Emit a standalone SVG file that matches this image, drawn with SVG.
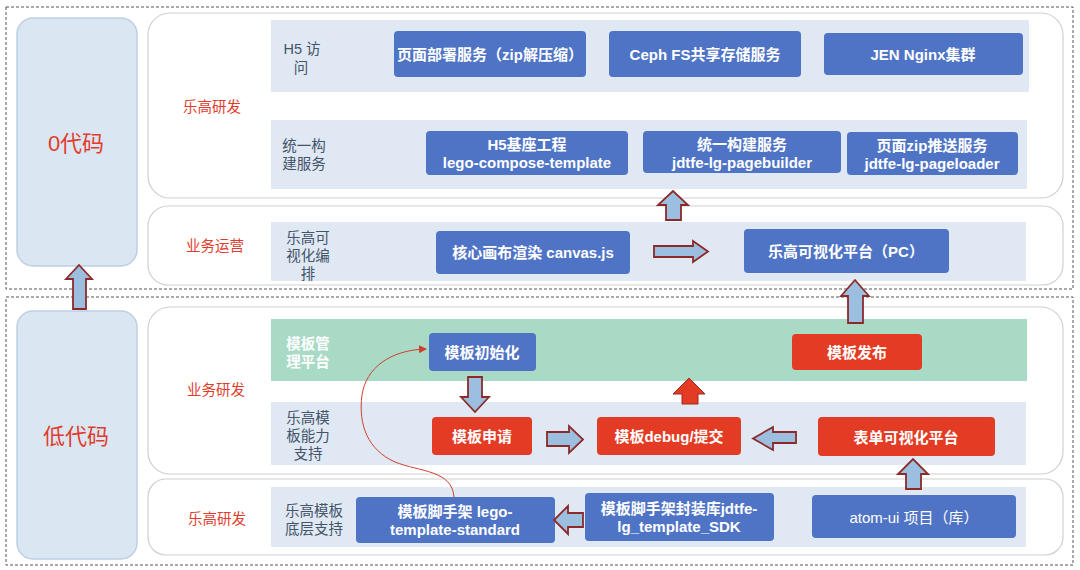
<svg xmlns="http://www.w3.org/2000/svg" width="1080" height="570" viewBox="0 0 1080 570">
<defs>
<style>
.dash{fill:none;stroke:#555;stroke-width:1;stroke-dasharray:3 2}
.side{fill:#dae6f1;stroke:#bdd0e2;stroke-width:1.5}
.panel{fill:#fff;stroke:#cfcfcf;stroke-width:1.2}
.band{fill:#dfe8f3}
.gband{fill:#a8dac5}
.bb{fill:#4f74c6}
.rb{fill:#e33b24}
text{font-family:"Liberation Sans","Noto Sans CJK SC",sans-serif;text-anchor:middle;dominant-baseline:central}
.wt{font-weight:bold;font-size:15px;fill:#fff}
.wl{font-weight:bold;font-size:14.5px;fill:#fff}
.wn{font-size:15px;fill:#fff}
.lab{font-size:14.5px;fill:#44546a}
.sec{font-size:14.5px;fill:#e23c2e}
.big{font-size:22px;fill:#e23c2e}
.arr{fill:#9cbfdf;stroke:#8c2a2a;stroke-width:1.8}
.rarr{fill:#e33b24;stroke:#9c2a20;stroke-width:1}
</style>
<marker id="ah" markerWidth="8" markerHeight="8" refX="7" refY="4" orient="auto" markerUnits="userSpaceOnUse">
<path d="M0,0 L8,4 L0,8 z" fill="#d0402f"/>
</marker>
</defs>
<rect width="1080" height="570" fill="#fff"/>

<g id="zones">
<rect class="dash" x="6" y="7" width="1067" height="282"/>
<rect class="dash" x="6" y="297" width="1067" height="268"/>
</g>

<g id="zero-code">
<rect class="side" x="17" y="18" width="120" height="248" rx="16"/>
<text class="big" x="76" y="143">0代码</text>
</g>
<g id="low-code">
<rect class="side" x="17" y="311" width="120" height="248" rx="16"/>
<text class="big" x="76" y="436">低代码</text>
</g>

<g id="panels">
<rect class="panel" x="148" y="13" width="915" height="185" rx="22"/>
<rect class="panel" x="148" y="206" width="915" height="79" rx="20"/>
<rect class="panel" x="148" y="307" width="915" height="167" rx="22"/>
<rect class="panel" x="148" y="479" width="915" height="76" rx="18"/>
<text class="sec" x="212" y="107">乐高研发</text>
<text class="sec" x="215" y="246">业务运营</text>
<text class="sec" x="216" y="390">业务研发</text>
<text class="sec" x="217" y="519">乐高研发</text>
</g>

<g id="row-h5">
<rect class="band" x="271" y="20" width="758" height="72"/>
<text class="lab"><tspan x="302" y="49">H5 访</tspan><tspan x="301" y="68">问</tspan></text>
</g>
<g id="row-build">
<rect class="band" x="271" y="120" width="756" height="69"/>
<text class="lab"><tspan x="304" y="146">统一构</tspan><tspan x="304" y="164">建服务</tspan></text>
</g>
<g id="row-visual">
<rect class="band" x="271" y="222" width="755" height="59"/>
<text class="lab"><tspan x="308" y="238">乐高可</tspan><tspan x="308" y="256">视化编</tspan><tspan x="308" y="274">排</tspan></text>
</g>
<g id="row-manage">
<rect class="gband" x="271" y="319" width="756" height="62"/>
<text class="wl"><tspan x="308" y="344">模板管</tspan><tspan x="308" y="362">理平台</tspan></text>
</g>
<g id="row-ability">
<rect class="band" x="271" y="402" width="755" height="63"/>
<text class="lab"><tspan x="308" y="418">乐高模</tspan><tspan x="308" y="436">板能力</tspan><tspan x="308" y="454">支持</tspan></text>
</g>
<g id="row-base">
<rect class="band" x="271" y="487" width="755" height="60"/>
<text class="lab"><tspan x="314" y="511">乐高模板</tspan><tspan x="314" y="529">底层支持</tspan></text>
</g>

<g id="n-deploy"><rect class="bb" x="394" y="31" width="192" height="46" rx="4"/><text class="wt" x="490" y="54">页面部署服务（zip解压缩）</text></g>
<g id="n-ceph"><rect class="bb" x="609" y="31" width="192" height="46" rx="4"/><text class="wt" x="705" y="54">Ceph FS共享存储服务</text></g>
<g id="n-nginx"><rect class="bb" x="824" y="33" width="199" height="42" rx="4"/><text class="wt" x="923" y="54">JEN Nginx集群</text></g>

<g id="n-h5base"><rect class="bb" x="426" y="131" width="202" height="44" rx="4"/><text class="wt"><tspan x="527" y="144">H5基座工程</tspan><tspan x="527" y="162">lego-compose-template</tspan></text></g>
<g id="n-pagebuilder"><rect class="bb" x="643" y="131" width="198" height="42" rx="4"/><text class="wt"><tspan x="742" y="143.5">统一构建服务</tspan><tspan x="742" y="161.5">jdtfe-lg-pagebuilder</tspan></text></g>
<g id="n-pageloader"><rect class="bb" x="847" y="132" width="171" height="43" rx="4"/><text class="wt"><tspan x="932" y="145">页面zip推送服务</tspan><tspan x="932" y="163">jdtfe-lg-pageloader</tspan></text></g>

<g id="n-canvas"><rect class="bb" x="436" y="231" width="194" height="43" rx="4"/><text class="wt" x="533" y="252">核心画布渲染 canvas.js</text></g>
<g id="n-pc"><rect class="bb" x="744" y="229" width="205" height="44" rx="4"/><text class="wt" x="846" y="251">乐高可视化平台（PC）</text></g>

<g id="n-init"><rect class="bb" x="429" y="333" width="107" height="38" rx="4"/><text class="wt" x="482" y="352">模板初始化</text></g>
<g id="n-publish"><rect class="rb" x="792" y="334" width="130" height="36" rx="4"/><text class="wt" x="857" y="352">模板发布</text></g>

<g id="n-apply"><rect class="rb" x="432" y="417" width="100" height="38" rx="4"/><text class="wt" x="482" y="436">模板申请</text></g>
<g id="n-debug"><rect class="rb" x="597" y="417" width="144" height="38" rx="4"/><text class="wt" x="669" y="436">模板debug/提交</text></g>
<g id="n-form"><rect class="rb" x="818" y="417" width="177" height="39" rx="4"/><text class="wt" x="906" y="437">表单可视化平台</text></g>

<g id="n-standard"><rect class="bb" x="356" y="497" width="199" height="46" rx="4"/><text class="wt"><tspan x="455" y="511">模板脚手架 lego-</tspan><tspan x="455" y="529">template-standard</tspan></text></g>
<g id="n-sdk"><rect class="bb" x="585" y="493" width="189" height="48" rx="4"/><text class="wt"><tspan x="679" y="508">模板脚手架封装库jdtfe-</tspan><tspan x="679" y="526">lg_template_SDK</tspan></text></g>
<g id="n-atom"><rect class="bb" x="812" y="495" width="204" height="43" rx="4"/><text class="wn" x="914" y="517">atom-ui 项目（库）</text></g>

<g id="connectors">
<path class="arr" d="M73,309 V279 H66 L79,265 L92,279 H86 V309 Z"/>
<path class="arr" d="M666,220 V205 H658 L673,191 L688,205 H681 V220 Z"/>
<path class="arr" d="M654,246 H693 V241 L708,251.5 L693,262 V257 H654 Z"/>
<path class="arr" d="M848,323 V296 H841 L855,280 L869,296 H863 V323 Z"/>
<path class="arr" d="M468,377 V397 H461 L475,412 L489,397 H482 V377 Z"/>
<path class="arr" d="M547,432 H569 V426 L583,439.5 L569,453 V446 H547 Z"/>
<path class="rarr" d="M682,404 V394 H673 L689,378 L705,394 H698 V404 Z"/>
<path class="arr" d="M796,432 H773 V427 L753,438.5 L773,450 V443 H796 Z"/>
<path class="arr" d="M583,513 H568 V506 L554,520 L568,534 V527 H583 Z"/>
<path class="arr" d="M906,489 V474 H898 L913,459 L928,474 H921 V489 Z"/>
<path d="M454,497 C452,470 420,472 395,462 C368,450 358,425 362,395 C366,368 390,350 426,349" fill="none" stroke="#d0402f" stroke-width="1" marker-end="url(#ah)"/>
</g>
</svg>
